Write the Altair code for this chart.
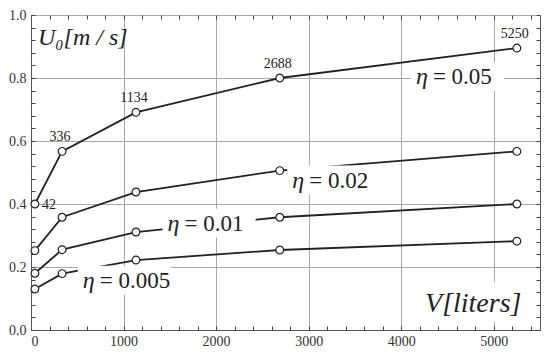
import altair as alt
import pandas as pd

# ---- data ----
V = [42, 336, 1134, 2688, 5250]
series_names = ["0.05", "0.02", "0.01", "0.005"]
u_005 = [0.400, 0.567, 0.691, 0.800, 0.895]
u_002 = [0.252, 0.358, 0.438, 0.506, 0.567]
u_001 = [0.180, 0.255, 0.311, 0.358, 0.400]
u_0005 = [0.130, 0.179, 0.222, 0.254, 0.282]

point_labels = ["42", "336", "1134", "2688", "5250"]

# eta label anchors (left edge, baseline) in data units
eta_label_V = [4159, 2823, 1476, 560]
eta_label_U = [0.780, 0.452, 0.315, 0.134]
eta_label_txt = ["= 0.05", "= 0.02", "= 0.01", "= 0.005"]

# anchors for the axis captions (left/right edge, baseline)
utitle_V = [75]
utitle_U = [0.905]
vtitle_V = [5300]
vtitle_U = [0.057]

x_ticks_major = [0, 1000, 2000, 3000, 4000, 5000]
y_ticks_major = [0.0, 0.2, 0.4, 0.6, 0.8, 1.0]
x_ticks_minor = list(range(0, 5600, 200))
y_ticks_minor = [round(i * 0.04, 2) for i in range(26)]

rows = []
for name, us in zip(series_names, [u_005, u_002, u_001, u_0005]):
    for v, u in zip(V, us):
        rows.append({"V": v, "U": u, "eta": name})
df = pd.DataFrame(rows)

df_lab = pd.DataFrame({"V": V, "U": u_005, "t": point_labels})
df_eta = pd.DataFrame({"V": eta_label_V, "U": eta_label_U, "t": eta_label_txt})
df_vt = pd.DataFrame({"V": vtitle_V, "U": vtitle_U, "t": ["V[liters]"]})
df_ut = pd.DataFrame({"V": utitle_V, "U": utitle_U, "t": ["U\u2080[m / s]"]})

SERIF = "Liberation Serif"
GRID = "#a8a8a8"
FRAME = "#555555"

xs = alt.Scale(domain=[0, 5500], nice=False, zero=True)
ys = alt.Scale(domain=[0, 1.0], nice=False, zero=True)

x_main = alt.X("V:Q", scale=xs, axis=alt.Axis(
    values=x_ticks_major, grid=True, gridColor=GRID, gridWidth=1,
    ticks=False, domain=True, domainColor=FRAME, labelFont=SERIF, labelFontSize=14,
    labelColor="#333333", labelPadding=4, format="d", title=None))
y_main = alt.Y("U:Q", scale=ys, axis=alt.Axis(
    values=y_ticks_major, grid=True, gridColor=GRID, gridWidth=1,
    ticks=False, domain=True, domainColor=FRAME, labelFont=SERIF, labelFontSize=14,
    labelColor="#333333", labelPadding=5, format=".1f", title=None))

lines = alt.Chart(df).mark_line(color="#222222", strokeWidth=1.8).encode(
    x=x_main, y=y_main, detail="eta:N")


def tick_axis(orient, values):
    return alt.Axis(orient=orient, values=values, grid=False, labels=False,
                    domain=False, ticks=True, tickSize=4, tickColor="#444444",
                    tickWidth=1, offset=-4, title=None)


pts = alt.Chart(df).mark_point(filled=True, fill="white", stroke="#222222",
                               strokeWidth=1.2, size=60, opacity=1).encode(
    x=alt.X("V:Q", scale=xs, axis=tick_axis("bottom", x_ticks_minor)),
    y=alt.Y("U:Q", scale=ys, axis=tick_axis("left", y_ticks_minor)),
    detail="eta:N")

pts2 = alt.Chart(df).mark_point(opacity=0).encode(
    x=alt.X("V:Q", scale=xs, axis=tick_axis("top", x_ticks_minor)),
    y=alt.Y("U:Q", scale=ys, axis=tick_axis("right", y_ticks_minor)))

X0 = alt.X("V:Q", scale=xs, axis=None)
Y0 = alt.Y("U:Q", scale=ys, axis=None)

lab42 = alt.Chart(df_lab[df_lab.t == "42"]).mark_text(
    font=SERIF, fontSize=14, color="#222222", align="left", baseline="middle", dx=7, dy=1
).encode(x=X0, y=Y0, text="t:N")

labs = alt.Chart(df_lab[df_lab.t != "42"]).mark_text(
    font=SERIF, fontSize=14, color="#222222", align="center", baseline="alphabetic", dx=-2, dy=-10
).encode(x=X0, y=Y0, text="t:N")

# white backgrounds behind the in-plot captions
eta_boxes = alt.Chart(df_eta).mark_rect(
    color="white", xOffset=-5, x2Offset=88, yOffset=-22, y2Offset=7
).encode(x=X0, y=Y0, x2="V:Q", y2="U:Q")

v_box = alt.Chart(df_vt).mark_rect(
    color="white", xOffset=-108, x2Offset=8, yOffset=-30, y2Offset=10
).encode(x=X0, y=Y0, x2="V:Q", y2="U:Q")

v_title = alt.Chart(df_vt).mark_text(
    font=SERIF, fontSize=28, fontStyle="italic", color="#222222", align="right",
    baseline="alphabetic"
).encode(x=X0, y=Y0, text="t:N")

u_title = alt.Chart(df_ut).mark_text(
    font=SERIF, fontSize=24, fontStyle="italic", color="#222222", align="left",
    baseline="alphabetic"
).encode(x=X0, y=Y0, text="t:N")

eta_sym = alt.Chart(df_eta).mark_text(
    font=SERIF, fontSize=24, fontStyle="italic", color="#222222", align="left",
    baseline="alphabetic", text="\u03b7"
).encode(x=X0, y=Y0)

eta_txt = alt.Chart(df_eta).mark_text(
    font=SERIF, fontSize=23, color="#222222", align="left", baseline="alphabetic", dx=17
).encode(x=X0, y=Y0, text="t:N")

chart = alt.layer(lines, pts2, v_box, eta_boxes, pts, lab42, labs, eta_sym, eta_txt,
                  v_title, u_title).resolve_axis(
    x="independent", y="independent"
).properties(
    width=534, height=340,
    autosize=alt.AutoSizeParams(type="fit", contains="padding"),
    padding={"left": 0, "top": 0, "right": 1, "bottom": 0},
).configure_view(stroke=FRAME, strokeWidth=1)

chart.save("out.html", embed_options={"renderer": "svg", "actions": False})
